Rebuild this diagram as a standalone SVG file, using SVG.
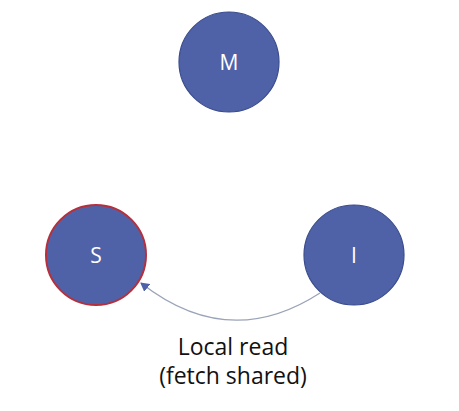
<svg xmlns="http://www.w3.org/2000/svg" width="459" height="411" viewBox="0 0 459 411">
<style>
.node{fill:#4F62A8;stroke:#3A4C8C;stroke-width:1.2}
.lbl{font-family:"Open Sans","Liberation Sans",sans-serif;font-size:21px;fill:#ffffff;text-anchor:middle}
.cap{font-family:"Open Sans","Liberation Sans",sans-serif;font-size:23px;fill:#111111;text-anchor:middle}
.edge{fill:none;stroke:#9AA3B8;stroke-width:1.3}
</style>
<defs>
<marker id="ah" markerWidth="10" markerHeight="10" refX="8" refY="5" orient="auto" markerUnits="userSpaceOnUse">
<path d="M0,0 L9,5 L0,10 z" fill="#4F62A8"/>
</marker>
</defs>
<rect width="459" height="411" fill="#ffffff"/>
<g id="connectors">
<path class="edge" d="M320,293 Q229,352 141,283" marker-end="url(#ah)"/>
</g>
<g id="node-M">
<circle class="node" cx="229" cy="62" r="50"/>
<text class="lbl" x="229" y="70">M</text>
</g>
<g id="node-S">
<circle class="node" cx="96" cy="255" r="50" style="stroke:#B5303C;stroke-width:2"/>
<text class="lbl" x="96" y="263">S</text>
</g>
<g id="node-I">
<circle class="node" cx="354" cy="255" r="50"/>
<text class="lbl" x="354" y="263">I</text>
</g>
<g id="label">
<text class="cap" x="233" y="355">Local read</text>
<text class="cap" x="233" y="384">(fetch shared)</text>
</g>
</svg>
